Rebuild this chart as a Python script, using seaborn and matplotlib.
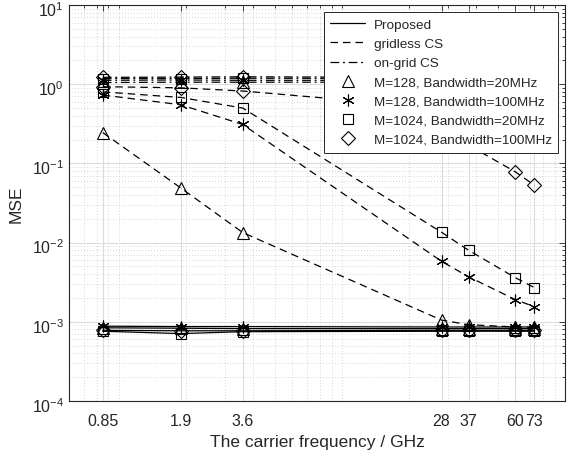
import numpy as np
import pandas as pd
import matplotlib
matplotlib.use("Agg")
import matplotlib.pyplot as plt
import matplotlib.ticker as mticker
import matplotlib.transforms as mtransforms
from matplotlib.lines import Line2D
import seaborn as sns

# carrier frequencies (GHz)
freqs = [0.85, 1.9, 3.6, 28, 37, 60, 73]
freq_labels = ["0.85", "1.9", "3.6", "28", "37", "60", "73"]

configs = ["M=128, Bandwidth=20MHz", "M=128, Bandwidth=100MHz",
           "M=1024, Bandwidth=20MHz", "M=1024, Bandwidth=100MHz"]
methods = ["Proposed", "gridless CS", "on-grid CS"]

# MSE
prop_m128_20 = [8.4e-4, 8.3e-4, 8.2e-4, 8.2e-4, 8.2e-4, 8.2e-4, 8.2e-4]
prop_m128_100 = [8.8e-4, 8.7e-4, 8.7e-4, 8.6e-4, 8.6e-4, 8.6e-4, 8.6e-4]
prop_m1024_20 = [7.6e-4, 7.1e-4, 7.5e-4, 7.6e-4, 7.6e-4, 7.6e-4, 7.6e-4]
prop_m1024_100 = [7.8e-4, 7.7e-4, 7.7e-4, 7.8e-4, 7.8e-4, 7.8e-4, 7.8e-4]

gl_m128_20 = [0.245, 0.049, 0.0134, 1.05e-3, 9.2e-4, 8.6e-4, 8.5e-4]
gl_m128_100 = [0.73, 0.55, 0.31, 5.8e-3, 3.7e-3, 1.9e-3, 1.55e-3]
gl_m1024_20 = [0.80, 0.68, 0.50, 0.0135, 8.0e-3, 3.6e-3, 2.7e-3]
gl_m1024_100 = [0.93, 0.90, 0.82, 0.50, 0.17, 0.078, 0.053]

og_m128_20 = [1.05, 1.06, 1.06, 1.06, 1.06, 1.06, 1.06]
og_m128_100 = [1.12, 1.13, 1.12, 1.12, 1.12, 1.12, 1.12]
og_m1024_20 = [1.18, 1.18, 1.19, 1.18, 1.18, 1.18, 1.18]
og_m1024_100 = [1.22, 1.23, 1.24, 1.22, 1.22, 1.22, 1.22]

values = {
    "Proposed": [prop_m128_20, prop_m128_100, prop_m1024_20, prop_m1024_100],
    "gridless CS": [gl_m128_20, gl_m128_100, gl_m1024_20, gl_m1024_100],
    "on-grid CS": [og_m128_20, og_m128_100, og_m1024_20, og_m1024_100],
}

rows = []
for m in methods:
    for c, vals in zip(configs, values[m]):
        for f, v in zip(freqs, vals):
            rows.append({"method": m, "config": c, "freq": f, "mse": v})
df = pd.DataFrame(rows)

sns.set_theme(style="white")
plt.rcParams["font.family"] = ["Liberation Sans", "DejaVu Sans"]
plt.rcParams["lines.scale_dashes"] = True

line_styles = {"Proposed": "-", "gridless CS": (0, (6, 4)), "on-grid CS": (0, (7, 3, 1.5, 3))}
markers = {configs[0]: "^", configs[1]: (6, 2, 0), configs[2]: "s", configs[3]: "D"}
msizes = {configs[0]: 9, configs[1]: 8.5, configs[2]: 7.5, configs[3]: 7}

fig = plt.figure(figsize=(5.73, 4.56), dpi=100)
ax = fig.add_axes([69 / 573, 54 / 456, 496 / 573, 396 / 456])

for m in methods:
    for c in configs:
        sub = df[(df.method == m) & (df.config == c)]
        sns.lineplot(data=sub, x="freq", y="mse", ax=ax, estimator=None, sort=False,
                     color="black", linewidth=0.9, linestyle=line_styles[m],
                     marker=markers[c], markersize=msizes[c], markerfacecolor="none",
                     markeredgecolor="black", markeredgewidth=0.8, legend=False)

ax.set_xscale("log")
ax.set_yscale("log")
ax.set_xlim(0.6, 100)
ax.set_ylim(1e-4, 1e1)

ax.xaxis.set_major_locator(mticker.FixedLocator(freqs))
ax.xaxis.set_major_formatter(mticker.FixedFormatter(freq_labels))
ax.xaxis.set_minor_locator(mticker.LogLocator(base=10, subs=np.arange(1, 10)))
ax.xaxis.set_minor_formatter(mticker.NullFormatter())
ax.yaxis.set_major_locator(mticker.LogLocator(base=10, numticks=10))
ax.yaxis.set_minor_locator(mticker.LogLocator(base=10, subs=np.arange(2, 10), numticks=10))
ax.yaxis.set_minor_formatter(mticker.NullFormatter())

ax.grid(True, which="major", color="#dcdcdc", linewidth=0.8, linestyle="-")
ax.grid(True, which="minor", color="#c8c8c8", linewidth=0.6, linestyle=(0, (1, 2.5)))
ax.set_axisbelow(True)

ax.tick_params(which="both", direction="in", top=True, right=True, colors="#262626",
               labelsize=11.5, width=0.6)
ax.tick_params(which="major", length=4.5)
ax.tick_params(which="minor", length=2.5)
ax.tick_params(axis="x", which="major", pad=9)
for s in ax.spines.values():
    s.set_color("#262626")
    s.set_linewidth(0.8)

# y labels sit a little below their ticks, as in the original
shift = mtransforms.ScaledTranslation(0, -3 / 100, fig.dpi_scale_trans)
for lbl in ax.get_yticklabels():
    lbl.set_transform(lbl.get_transform() + shift)

ax.set_xlabel("The carrier frequency / GHz", fontsize=12.5, color="#262626", labelpad=4)
ax.set_ylabel("MSE", fontsize=12.5, color="#262626", labelpad=6)

handles = [
    Line2D([], [], color="black", lw=0.9, ls=line_styles["Proposed"]),
    Line2D([], [], color="black", lw=0.9, ls=line_styles["gridless CS"]),
    Line2D([], [], color="black", lw=0.9, ls=line_styles["on-grid CS"]),
]
for c in configs:
    handles.append(Line2D([], [], color="black", ls="none", marker=markers[c],
                          markersize=msizes[c], markerfacecolor="none",
                          markeredgecolor="black", markeredgewidth=0.8))
labels = methods + configs
leg = ax.legend(handles, labels, loc="upper right", fontsize=9.7, fancybox=False,
                framealpha=1, edgecolor="#262626", borderaxespad=0.5,
                handlelength=2.6, handletextpad=0.6, labelspacing=0.5, borderpad=0.5)
leg.get_frame().set_linewidth(0.7)

fig.savefig("out.png", dpi=100)
